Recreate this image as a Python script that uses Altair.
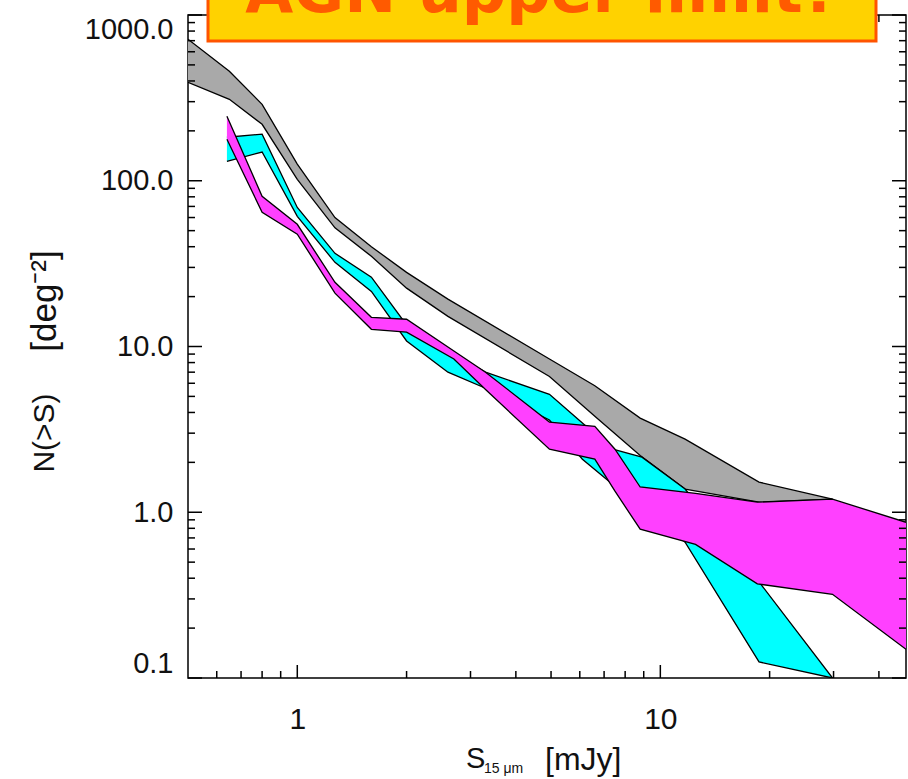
import altair as alt
import pandas as pd

# ---- cumulative source counts N(>S) [deg^-2] vs 15 micron flux S [mJy] ----
# grey envelope: all sources
gray_s = [0.5, 0.65, 0.8, 1.0, 1.27, 1.6, 2.0, 2.6, 4.95, 6.6, 8.8, 11.7, 18.7, 29.8]
gray_hi = [714, 458, 289, 126, 60, 40, 28, 19.3, 8.4, 5.8, 3.7, 2.76, 1.52, 1.2]
gray_lo = [393, 310, 219, 102, 52, 35, 22.5, 15.2, 6.6, 3.8, 2.2, 1.38, 1.15, 1.2]

# cyan envelope
cyan_s = [0.64, 0.8, 1.0, 1.27, 1.6, 2.0, 2.6, 3.3, 4.95, 6.1, 7.4, 8.9, 11.7, 18.7, 29.8]
cyan_hi = [183, 191, 69, 36.5, 26.2, 13.5, 9.4, 7.0, 5.15, 3.45, 2.4, 2.15, 1.38, 0.38, 0.1]
cyan_lo = [131, 149, 61, 32.2, 21.5, 10.8, 7.0, 5.6, 3.6, 2.09, 1.47, 1.06, 0.66, 0.125, 0.1]

# magenta envelope
mag_s = [0.64, 0.8, 1.0, 1.27, 1.6, 2.0, 2.7, 3.3, 4.95, 6.6, 7.5, 8.8, 12.5, 18.5, 29.8, 47.5]
mag_hi = [245, 80.6, 54.6, 24.4, 15.0, 14.6, 9.4, 7.0, 3.5, 3.3, 2.4, 1.42, 1.3, 1.15, 1.2, 0.87]
mag_lo = [178, 64.6, 47.6, 21.0, 12.7, 12.2, 8.4, 5.5, 2.4, 2.09, 1.34, 0.79, 0.64, 0.37, 0.32, 0.149]

# axis ticks
x_major = [1, 10]
x_minor = [0.6, 0.7, 0.8, 0.9, 2, 3, 4, 5, 6, 7, 8, 9, 20, 30, 40]
y_major = [0.1, 1, 10, 100, 1000]
y_minor = [m * d for d in (0.1, 1, 10, 100) for m in range(2, 10)]

headline = "AGN upper limit?"

W, H = 718, 663
LABEL_FONT = "Liberation Sans"
INK = "#111111"

xs = alt.Scale(type="log", domain=[0.5, 47.5], nice=False)
ys = alt.Scale(type="log", domain=[0.1, 1000], nice=False)

x_axis = alt.Axis(values=x_major, format="d", ticks=False, domain=False, grid=False,
                  labelPadding=26, labelFont=LABEL_FONT, labelFontSize=30,
                  labelColor=INK, labelFlush=False)
y_axis = alt.Axis(values=y_major, format=".1f", ticks=False, domain=False, grid=False,
                  labelPadding=15, labelFont=LABEL_FONT, labelFontSize=29,
                  labelColor=INK, labelFlush=True)


def X(field):
    return alt.X(field, type="quantitative", scale=xs, axis=x_axis, title=None)


def Y(field):
    return alt.Y(field, type="quantitative", scale=ys, axis=y_axis, title=None)


def band(s, hi, lo, color):
    df = pd.DataFrame({"s": s, "hi": hi, "lo": lo})
    base = alt.Chart(df)
    fill = base.mark_area(color=color, opacity=1, clip=True).encode(
        x=X("s"), y=Y("lo"), y2="hi:Q")
    top = base.mark_line(color="black", strokeWidth=1.3, clip=True).encode(
        x=X("s"), y=Y("hi"))
    bottom = base.mark_line(color="black", strokeWidth=1.3, clip=True).encode(
        x=X("s"), y=Y("lo"))
    return [fill, top, bottom]


layers = []
layers += band(gray_s, gray_hi, gray_lo, "#A9A9A9")
layers += band(cyan_s, cyan_hi, cyan_lo, "#00FFFF")
layers += band(mag_s, mag_hi, mag_lo, "#FF40FF")

# inward-pointing ticks on all four sides
tick_style = dict(color="black", strokeWidth=1.5)


def yticks(vals, length):
    df = pd.DataFrame({"v": vals})
    left = alt.Chart(df).mark_rule(**tick_style).encode(
        y=Y("v"), x=alt.value(0), x2=alt.value(length))
    right = alt.Chart(df).mark_rule(**tick_style).encode(
        y=Y("v"), x=alt.value(W - length), x2=alt.value(W))
    return [left, right]


def xticks(vals, length):
    df = pd.DataFrame({"v": vals})
    bottom = alt.Chart(df).mark_rule(**tick_style).encode(
        x=X("v"), y=alt.value(H - length), y2=alt.value(H))
    top = alt.Chart(df).mark_rule(**tick_style).encode(
        x=X("v"), y=alt.value(0), y2=alt.value(length))
    return [bottom, top]


layers += yticks(y_major, 14) + yticks(y_minor, 7)
layers += xticks(x_major, 13) + xticks(x_minor, 7)

# axis titles
one = pd.DataFrame({"t": [0]})
ytitle_a = alt.Chart(one).mark_text(
    text="N(>S)", font=LABEL_FONT, fontSize=30, color=INK,
    angle=270, align="center", baseline="middle"
).encode(x=alt.value(-143), y=alt.value(418))
ytitle_b = alt.Chart(one).mark_text(
    text="[deg⁻²]", font=LABEL_FONT, fontSize=35, color=INK,
    angle=270, align="center", baseline="middle"
).encode(x=alt.value(-143), y=alt.value(286))

xt_s = alt.Chart(one).mark_text(
    text="S", font=LABEL_FONT, fontSize=29, color=INK, align="left", baseline="alphabetic"
).encode(x=alt.value(278), y=alt.value(753))
xt_sub = alt.Chart(one).mark_text(
    text="15 μm", font=LABEL_FONT, fontSize=14, color=INK, align="left", baseline="alphabetic"
).encode(x=alt.value(296), y=alt.value(758))
xt_unit = alt.Chart(one).mark_text(
    text="[mJy]", font=LABEL_FONT, fontSize=32, color=INK, align="left", baseline="alphabetic"
).encode(x=alt.value(357), y=alt.value(755))

# headline banner
banner = alt.Chart(one).mark_rect(
    color="#FFD200", stroke="#FF5400", strokeWidth=3
).encode(x=alt.value(20), x2=alt.value(688), y=alt.value(-30), y2=alt.value(26))
banner_text = alt.Chart(pd.DataFrame({"t": [headline]})).mark_text(
    font="DejaVu Sans", fontWeight="bold", fontSize=62, color="#FF5A00",
    align="center", baseline="alphabetic"
).encode(text="t:N", x=alt.value(354), y=alt.value(-3))

layers += [ytitle_a, ytitle_b, xt_s, xt_sub, xt_unit, banner, banner_text]

chart = alt.layer(*layers).properties(
    width=W, height=H,
    autosize=alt.AutoSizeParams(type="none"),
    padding={"left": 188, "top": 15, "right": 2, "bottom": 101},
    background="white",
).configure_view(stroke="black", strokeWidth=1.5)

chart.save("out.html", embed_options={"renderer": "svg", "actions": False})
